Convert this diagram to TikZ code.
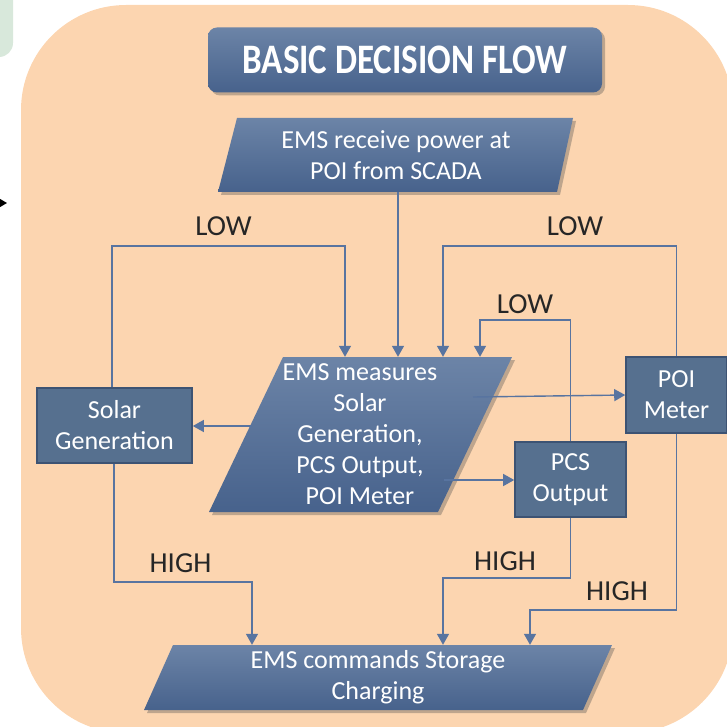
\documentclass[tikz,border=0pt]{standalone}
\usepackage{fontspec}
\setmainfont{Carlito}
\usetikzlibrary{arrows.meta,shadows,calc}
\definecolor{peach}{HTML}{FCD5B0}
\definecolor{mint}{HTML}{D8E8DB}
\definecolor{lineblue}{HTML}{5874A0}
\definecolor{boxfill}{HTML}{56708F}
\definecolor{boxedge}{HTML}{3D5373}
\definecolor{gtop}{HTML}{6C84A7}
\definecolor{gbot}{HTML}{47628C}
\definecolor{labeltext}{HTML}{262626}
\tikzset{
  conn/.style={draw=lineblue, line width=1.4pt},
  arr/.style={conn, -{Triangle[length=11pt,width=12pt]}},
  para/.style={top color=gtop, bottom color=gbot, draw=none,
    drop shadow={shadow xshift=3pt, shadow yshift=-3pt, opacity=0.35, fill=black!70}},
  boxnode/.style={draw=boxedge, line width=1.6pt, fill=boxfill, text=white,
    align=center, inner sep=0pt, font=\fontsize{26}{31}\selectfont},
  paratext/.style={text=white, align=center, inner sep=0pt, font=\fontsize{26}{31}\selectfont},
  lbl/.style={text=labeltext, anchor=base, inner sep=0pt, font=\fontsize{29}{34}\selectfont}
}
\begin{document}
\begin{tikzpicture}[x=1pt,y=-1pt]
\useasboundingbox (0,0) rectangle (727,727);
\begin{scope}
\clip (0,0) rectangle (727,727);
% side shapes
\fill[mint] (-40,-40) [rounded corners=14pt] -- (13,-40) -- (13,57) -- (-40,57) [sharp corners] -- cycle;
\fill[peach, rounded corners=105pt] (21,5) rectangle (733,733);
\coordinate (inL) at (-12,203);
\coordinate (inR) at (7,203);
\draw[line width=1.4pt, -{Triangle[length=8pt,width=9pt]}] (inL) -- (inR);
\end{scope}

% title
\node[top color=gtop, bottom color=gbot, rounded corners=9pt, minimum width=394pt, minimum height=65pt,
  drop shadow={shadow xshift=3pt, shadow yshift=-3pt, opacity=0.35, fill=black!70},
  text=white, inner sep=0pt, font=\bfseries\fontsize{35}{40}\selectfont] (title) at (405,60)
  {\scalebox{1}[1.2]{BASIC DECISION FLOW}};

% parallelograms
\path[para] (237,118) -- (573,118) -- (557,192) -- (218,192) -- cycle;
\node[paratext, minimum height=74pt] (recv) at (396,155) {EMS receive power at\\POI from SCADA};

\path[para] (283,357) -- (512,357) -- (438,512) -- (209,512) -- cycle;
\node[paratext, minimum height=155pt] (meas) at (360,434.5) {EMS measures\\Solar\\Generation,\\PCS Output,\\POI Meter};

\path[para] (173,645) -- (612,645) -- (583,710) -- (144,710) -- cycle;
\node[paratext, minimum height=65pt] (cmd) at (378,677.5) {EMS commands Storage\\Charging};

% boxes
\node[boxnode, minimum width=155pt, minimum height=75pt] (solar) at (114.5,425.5) {Solar\\Generation};
\node[boxnode, minimum width=101pt, minimum height=76pt] (poi) at (676.5,395) {POI\\Meter};
\node[boxnode, minimum width=111pt, minimum height=75pt] (pcs) at (570.5,479.5) {PCS\\Output};

% connectors
\draw[arr] (recv.south -| 398,0) -- (meas.north -| 398,0);
\draw[arr] (solar.north -| 112,0) |- (345,246) -- (meas.north -| 345,0);
\draw[arr] (poi.north) |- (443,246) -- (meas.north -| 443,0);
\draw[arr] (pcs.north) |- (480,320) -- (meas.north -| 480,0);

\coordinate (m1) at (252,426);
\coordinate (m2) at (473,397);
\coordinate (m3) at (444,480);
\draw[arr] (m1) -- (solar.east |- m1);
\draw[arr] (m2) -- (poi.west);
\draw[arr] (m3) -- (pcs.west |- m3);

\draw[arr] (solar.south -| 114,0) |- (252,582) -- (cmd.north -| 252,0);
\draw[arr] (pcs.south) |- (443,578) -- (cmd.north -| 443,0);
\draw[arr] (poi.south) |- (530,610) -- (cmd.north -| 530,0);

% labels
\node[lbl] (low1) at (223.5,236) {LOW};
\node[lbl] (low2) at (575,236) {LOW};
\node[lbl] (low3) at (525,313) {LOW};
\node[lbl] (high1) at (180.5,572) {HIGH};
\node[lbl] (high2) at (505,570) {HIGH};
\node[lbl] (high3) at (617,600) {HIGH};
\end{tikzpicture}
\end{document}
